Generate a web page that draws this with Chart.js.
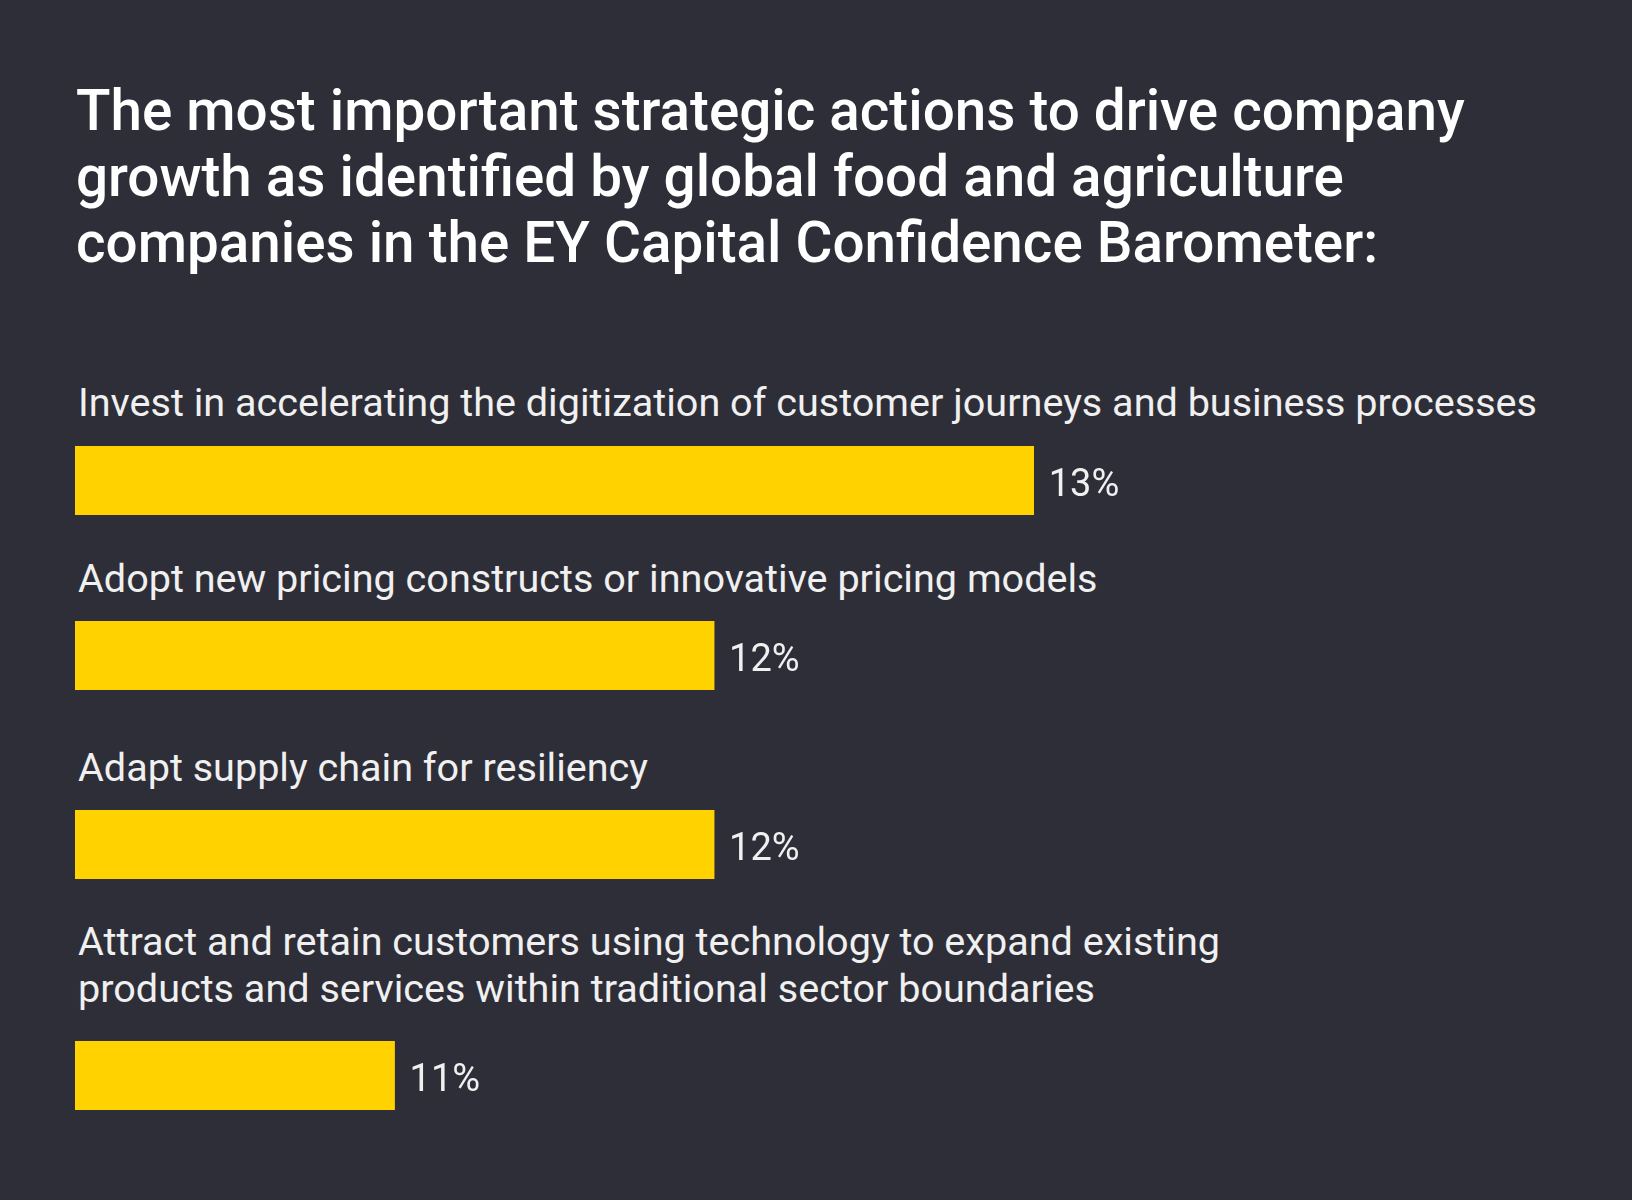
<!DOCTYPE html>
<html>
<head>
<meta charset="utf-8">
<script src="https://cdn.jsdelivr.net/npm/chart.js@4.4.1/dist/chart.umd.min.js"></script>
<style>
  html, body { margin: 0; padding: 0; background: #2e2e38; }
  body { width: 1632px; height: 1200px; position: relative; overflow: hidden; font-family: Roboto, sans-serif; color: #f4f4f4; }
  h1 { position: absolute; left: 76px; top: 78px; margin: 0; font-family: Roboto, sans-serif; font-size: 56.6px; line-height: 66px; font-weight: 500; color: #ffffff; white-space: pre-line; }
  .row { position: absolute; left: 0; width: 1632px; }
  .lab { margin-left: 78px; font-size: 39.6px; line-height: 47px; color: #f0f0f0; white-space: pre-line; }
  .bar { width: 1632px; height: 69px; }
</style>
</head>
<body>
<h1 id="title"></h1>
<div id="rows"></div>
<script>
const titleLines = [
  "The most important strategic actions to drive company",
  "growth as identified by global food and agriculture",
  "companies in the EY Capital Confidence Barometer:"
];
const categories = [
  "Invest in accelerating the digitization of customer journeys and business processes",
  "Adopt new pricing constructs or innovative pricing models",
  "Adapt supply chain for resiliency",
  "Attract and retain customers using technology to expand existing\nproducts and services within traditional sector boundaries"
];
const values = [13, 12, 12, 11];
const valueLabels = ["13%", "12%", "12%", "11%"];
const axisMin = 10;
const axisMax = 14.5;

// layout: label block top and gap between label block and bar
const rowTops = [379, 555, 744, 918];
const barGaps = [20, 19, 19, 29];

document.getElementById('title').textContent = titleLines.join('\n');

const valueLabelPlugin = {
  id: 'valueLabel',
  afterDatasetsDraw(chart) {
    const ctx = chart.ctx;
    const meta = chart.getDatasetMeta(0);
    const idx = chart.options.plugins.valueLabel.index;
    meta.data.forEach((el) => {
      ctx.save();
      ctx.fillStyle = '#f0f0f0';
      ctx.font = '38px Roboto, sans-serif';
      ctx.textAlign = 'left';
      ctx.textBaseline = 'middle';
      ctx.fillText(valueLabels[idx], el.x + 15, el.y + 6);
      ctx.restore();
    });
  }
};

const rows = document.getElementById('rows');
categories.forEach((cat, i) => {
  const row = document.createElement('div');
  row.className = 'row';
  row.style.top = rowTops[i] + 'px';
  const lab = document.createElement('div');
  lab.className = 'lab';
  lab.textContent = cat;
  const wrap = document.createElement('div');
  wrap.className = 'bar';
  wrap.style.marginTop = barGaps[i] + 'px';
  const canvas = document.createElement('canvas');
  wrap.appendChild(canvas);
  row.appendChild(lab);
  row.appendChild(wrap);
  rows.appendChild(row);

  new Chart(canvas, {
    type: 'bar',
    data: {
      labels: [cat],
      datasets: [{
        data: [values[i]],
        backgroundColor: '#ffd200',
        borderWidth: 0,
        barPercentage: 1,
        categoryPercentage: 1
      }]
    },
    options: {
      indexAxis: 'y',
      responsive: true,
      maintainAspectRatio: false,
      animation: false,
      layout: { padding: { left: 75, right: 119, top: 0, bottom: 0 } },
      scales: {
        x: { type: 'linear', min: axisMin, max: axisMax, display: false },
        y: { display: false }
      },
      plugins: {
        legend: { display: false },
        tooltip: { enabled: false },
        valueLabel: { index: i }
      }
    },
    plugins: [valueLabelPlugin]
  });
});
</script>
</body>
</html>
